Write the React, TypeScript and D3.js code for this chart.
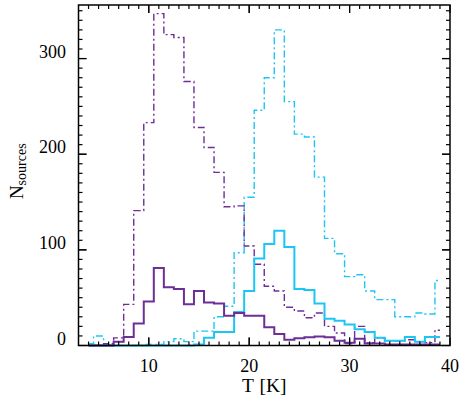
import { useEffect, useRef } from 'react';
import * as d3 from 'd3';

// Temperature bins (K), centres
const temps = [4, 5, 6, 7, 8, 9, 10, 11, 12, 13, 14, 15, 16, 17, 18, 19, 20, 21, 22, 23, 24, 25, 26, 27, 28, 29, 30, 31, 32, 33, 34, 35, 36, 37, 38, 39];

const purpleAll = [0, 0, 2, 8, 43, 141, 233, 347, 325, 322, 276, 228, 207, 181, 145, 146, 104, 85, 62, 57, 40, 36, 29, 34, 20, 13, 2, 20, 3, 8, 5, 5, 6, 4, 3, 16];
const purpleSel = [0, 0, 0, 4, 9, 23, 46, 81, 61, 59, 43, 57, 45, 44, 31, 34, 31, 31, 19, 12, 6, 7.5, 8.5, 9.5, 8.5, 5, 3, 7, 2, 2, 1, 1, 1, 1, 1, 1];
const cyanAll = [2, 10, 1, 0, 0, 0, 1, 1, 4, 7, 4, 15, 15, 30, 41, 97, 155, 246, 280, 330, 255, 221, 218, 176, 112, 96, 72, 74, 57, 48, 48, 30, 30, 34, 33, 68];
const cyanSel = [0, 0, 0, 0, 0, 0, 0, 0, 0, 0, 0, 1, 8, 14, 14, 35, 57, 91, 106, 120, 103, 59, 58, 44, 28, 26, 22, 17, 14, 8, 5, 5, 9, 4, 9, 9];

const xMajor = [10, 20, 30, 40];
const yMajor = [0, 100, 200, 300];

const PURPLE = '#6e2e98';
const CYAN = '#1cc6f4';

export default function App() {
  const ref = useRef<SVGSVGElement>(null);

  useEffect(() => {
    if (!ref.current) return;
    const svg = d3.select(ref.current);
    svg.selectAll('*').remove();

    const left = 78.5, right = 450, top = 5, bottom = 345.5;

    const x = d3.scaleLinear().domain([3, 40]).range([left, right]);
    const y = d3.scaleLinear().domain([0, 356]).range([bottom, top]);

    const font = '"Times New Roman", "Liberation Serif", serif';

    // Histograms (IDL psym=10 style steps)
    const series = [
      { values: cyanAll, color: CYAN, dash: '7,3,2,3', width: 1.4 },
      { values: purpleAll, color: PURPLE, dash: '7,3,2,3', width: 1.4 },
      { values: cyanSel, color: CYAN, dash: null, width: 2 },
      { values: purpleSel, color: PURPLE, dash: null, width: 2 }
    ];

    const line = d3.line<number>()
      .x((d, i) => x(temps[i]))
      .y(d => y(d))
      .curve(d3.curveStep);

    series.forEach(s => {
      svg.append('path')
        .datum(s.values)
        .attr('fill', 'none')
        .attr('stroke', s.color)
        .attr('stroke-width', s.width)
        .attr('stroke-dasharray', s.dash)
        .attr('d', line);
    });

    // Frame
    svg.append('rect')
      .attr('x', left)
      .attr('y', top)
      .attr('width', right - left)
      .attr('height', bottom - top)
      .attr('fill', 'none')
      .attr('stroke', '#000')
      .attr('stroke-width', 1.5);

    // Ticks, inward on all sides
    const xMinor = d3.range(4, 40, 1);
    const yMinor = d3.range(10, 356, 10);
    const major = 8, minor = 4;

    const tickG = svg.append('g').attr('stroke', '#000').attr('stroke-width', 1.2);
    xMinor.concat(xMajor).forEach(t => {
      const len = xMajor.includes(t) ? major : minor;
      tickG.append('line').attr('x1', x(t)).attr('x2', x(t)).attr('y1', bottom).attr('y2', bottom - len);
      tickG.append('line').attr('x1', x(t)).attr('x2', x(t)).attr('y1', top).attr('y2', top + len);
    });
    yMinor.concat(yMajor).forEach(t => {
      const len = yMajor.includes(t) ? major : minor;
      tickG.append('line').attr('x1', left).attr('x2', left + len).attr('y1', y(t)).attr('y2', y(t));
      tickG.append('line').attr('x1', right).attr('x2', right - len).attr('y1', y(t)).attr('y2', y(t));
    });

    // Tick labels
    svg.selectAll('.xlab')
      .data(xMajor)
      .enter()
      .append('text')
      .attr('x', d => x(d))
      .attr('y', 372)
      .attr('text-anchor', 'middle')
      .style('font-family', font)
      .style('font-size', '18px')
      .text(d => d);

    svg.selectAll('.ylab')
      .data(yMajor)
      .enter()
      .append('text')
      .attr('x', 66)
      .attr('y', d => y(d) - 1)
      .attr('text-anchor', 'end')
      .style('font-family', font)
      .style('font-size', '18px')
      .text(d => d);

    // Axis titles
    svg.append('text')
      .attr('x', (left + right) / 2)
      .attr('y', 392)
      .attr('text-anchor', 'middle')
      .style('font-family', font)
      .style('font-size', '19.5px')
      .style('word-spacing', '1px')
      .text('T [K]');

    const yt = svg.append('text')
      .attr('transform', `translate(23,${(top + bottom) / 2 - 4}) rotate(-90)`)
      .attr('text-anchor', 'middle')
      .style('font-family', font)
      .style('font-size', '19px');
    yt.append('tspan').text('N');
    yt.append('tspan').attr('dy', 3).style('font-size', '14px').text('sources');
  }, []);

  return (
    <svg
      ref={ref}
      width={463}
      height={400}
      style={{ position: 'absolute', left: 0, top: 0, background: '#fff' }}
    />
  );
}
